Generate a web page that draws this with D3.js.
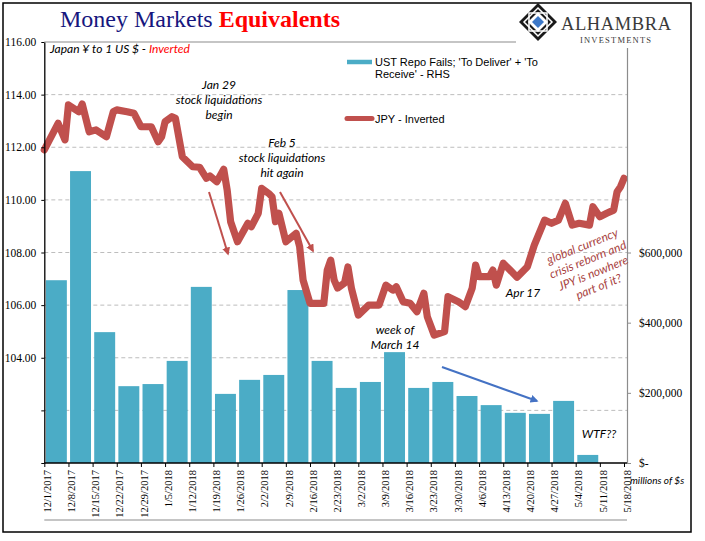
<!DOCTYPE html>
<html><head><meta charset="utf-8">
<script src="https://cdn.jsdelivr.net/npm/d3@7"></script>
<style>
html,body{margin:0;padding:0;background:#fff;}
svg{display:block;}
</style></head>
<body>
<svg id="chart" width="705" height="541"></svg>
<script>
// ---------------- DATA ----------------
const categories = ["12/1/2017","12/8/2017","12/15/2017","12/22/2017","12/29/2017","1/5/2018","1/12/2018","1/19/2018","1/26/2018","2/2/2018","2/9/2018","2/16/2018","2/23/2018","3/2/2018","3/9/2018","3/16/2018","3/23/2018","3/30/2018","4/6/2018","4/13/2018","4/20/2018","4/27/2018","5/4/2018","5/11/2018","5/18/2018"];
// UST repo fails, $ millions (RHS), one bar per weekly band
const repoFails = [521000,832000,373000,219000,225000,291000,502000,197000,237000,251000,493000,291000,214000,231000,316000,214000,231000,191000,165000,143000,140000,177000,23000];
// JPY per USD (inverted axis on LHS)
const jpyDates = ["2017-12-01","2017-12-05","2017-12-07","2017-12-08","2017-12-11","2017-12-12","2017-12-14","2017-12-16","2017-12-19","2017-12-21","2017-12-22","2017-12-25","2017-12-27","2017-12-29","2018-01-01","2018-01-03","2018-01-04","2018-01-05","2018-01-07","2018-01-08","2018-01-10","2018-01-13","2018-01-15","2018-01-17","2018-01-18","2018-01-20","2018-01-22","2018-01-23","2018-01-24","2018-01-26","2018-01-29","2018-01-30","2018-02-01","2018-02-02","2018-02-04","2018-02-05","2018-02-06","2018-02-07","2018-02-09","2018-02-12","2018-02-13","2018-02-14","2018-02-16","2018-02-20","2018-02-21","2018-02-22","2018-02-23","2018-02-24","2018-02-26","2018-02-27","2018-02-28","2018-03-02","2018-03-05","2018-03-08","2018-03-10","2018-03-12","2018-03-13","2018-03-15","2018-03-17","2018-03-19","2018-03-21","2018-03-22","2018-03-24","2018-03-27","2018-03-28","2018-03-31","2018-04-02","2018-04-04","2018-04-05","2018-04-06","2018-04-09","2018-04-10","2018-04-11","2018-04-13","2018-04-15","2018-04-17","2018-04-20","2018-04-22","2018-04-25","2018-04-27","2018-04-29","2018-05-01","2018-05-03","2018-05-05","2018-05-08","2018-05-09","2018-05-11","2018-05-13","2018-05-15","2018-05-16","2018-05-17","2018-05-18"];
const jpyValues = [111.90,112.91,112.28,113.61,113.35,113.64,112.59,112.66,112.40,113.35,113.42,113.35,113.29,112.78,112.78,112.21,112.40,112.97,113.16,113.10,111.64,111.26,111.24,110.82,110.91,110.69,111.16,110.37,109.17,108.41,109.11,108.98,109.49,110.44,110.25,110.12,109.17,109.49,108.41,108.73,108.22,106.95,106.07,106.07,107.33,107.71,106.95,106.65,106.84,107.45,106.65,105.62,106.00,106.00,106.76,106.57,106.70,106.13,106.07,105.75,106.45,105.56,104.86,104.99,106.32,106.13,105.94,106.64,107.52,107.08,107.08,107.33,106.76,107.59,107.33,107.06,107.46,108.28,109.23,109.11,109.23,109.87,109.04,109.11,109.04,109.74,109.36,109.49,109.61,110.31,110.50,110.82];
const leftTicks = [100,102,104,106,108,110,112,114,116];
const leftLabelled = [104,106,108,110,112,114,116];
const rightTicks = [0,200000,400000,600000];
const rightTickLabels = ["$-","$200,000","$400,000","$600,000"];

// ---------------- LAYOUT ----------------
const svg = d3.select("#chart");
const L = 44.3, R = 624, T = 42, B = 463, RA = 627;
const BAR = "#4BACC6", LINE = "#C0504D";

const xCat = d3.scalePoint().domain(categories).range([L, R]);
const xTime = d3.scaleTime().domain([new Date(2017,11,1), new Date(2018,4,18)]).range([L, R]);
const yL = d3.scaleLinear().domain([100,116]).range([B, T]);
const yR = d3.scaleLinear().domain([0,1200000]).range([B, T]);
const parse = d3.timeParse("%Y-%m-%d");

svg.append("rect").attr("width",705).attr("height",541).attr("fill","#fff");
// outer frame
svg.append("rect").attr("x",3).attr("y",3).attr("width",688).attr("height",529)
  .attr("fill","none").attr("stroke","#000").attr("stroke-width",1.5);

// gridlines
svg.append("g").selectAll("line").data(leftTicks.filter(d=>d>100 && d<116)).join("line")
  .attr("x1",L).attr("x2",RA).attr("y1",d=>yL(d)).attr("y2",d=>yL(d))
  .attr("stroke","#BDBDBD").attr("stroke-width",1).attr("stroke-dasharray","4,3");
// top line
svg.append("line").attr("x1",L).attr("x2",RA).attr("y1",yL(116)).attr("y2",yL(116))
  .attr("stroke","#8C8C8C").attr("stroke-width",1.2);
// bottom gray line
svg.append("line").attr("x1",L).attr("x2",RA).attr("y1",520).attr("y2",520)
  .attr("stroke","#8C8C8C").attr("stroke-width",1.2);

// bars
const step = xCat.step();
svg.append("g").selectAll("rect").data(repoFails).join("rect")
  .attr("x",(d,i)=>xCat(categories[i])+1.6)
  .attr("width",step-3.2)
  .attr("y",d=>yR(d))
  .attr("height",d=>B-yR(d))
  .attr("fill",BAR);

// JPY line
const jpy = jpyDates.map((d,i)=>({date:parse(d), v:jpyValues[i]}));
svg.append("path").datum(jpy)
  .attr("d", d3.line().x(d=>xTime(d.date)).y(d=>yL(d.v)))
  .attr("fill","none").attr("stroke",LINE).attr("stroke-width",7.2)
  .attr("stroke-linejoin","round").attr("stroke-linecap","round");

// left axis
const gL = svg.append("g").attr("transform",`translate(${L},0)`)
  .call(d3.axisLeft(yL).tickValues(leftTicks).tickSize(3).tickSizeOuter(0)
    .tickFormat(d=>leftLabelled.includes(d)?d3.format(".2f")(d):""));
gL.select(".domain").attr("stroke","#000").attr("stroke-width",1.3);
gL.selectAll(".tick line").attr("stroke","#000");
gL.selectAll(".tick text").attr("font-family","Liberation Serif").attr("font-size",11.5)
  .attr("fill","#000").attr("x",-8);

// right axis
const gR = svg.append("g").attr("transform",`translate(${RA},0)`)
  .call(d3.axisRight(yR).tickValues(rightTicks).tickSize(4).tickSizeOuter(0)
    .tickFormat((d,i)=>rightTickLabels[i]));
gR.select(".domain").attr("stroke","#8C8C8C").attr("stroke-width",1.2);
gR.selectAll(".tick line").attr("stroke","#8C8C8C");
gR.selectAll(".tick text").attr("font-family","Liberation Serif").attr("font-size",11.5)
  .attr("fill","#000").attr("x",12);

// bottom axis
const gB = svg.append("g").attr("transform",`translate(0,${B})`)
  .call(d3.axisBottom(xCat).tickSize(4).tickSizeOuter(0));
gB.select(".domain").attr("stroke","#000").attr("stroke-width",1.3).attr("d",`M${L},0H${RA}`);
gB.selectAll(".tick line").attr("stroke","#000");
gB.selectAll(".tick text").attr("font-family","Liberation Serif").attr("font-size",10.5)
  .attr("fill","#000")
  .attr("transform","rotate(-90)").attr("text-anchor","end")
  .attr("x",-7).attr("y",2.5).attr("dy","0.35em");

// title
const title = svg.append("text").attr("x",60).attr("y",27)
  .attr("font-family","Liberation Serif").attr("font-size",24);
title.append("tspan").attr("fill","#16167E").text("Money Markets ");
title.append("tspan").attr("fill","#FF0000").attr("font-weight","bold").text("Equivalents");

// subtitle
const sub = svg.append("text").attr("x",50).attr("y",53)
  .attr("font-family","Lato").attr("font-style","italic").attr("font-size",12);
sub.append("tspan").attr("fill","#000").text("Japan ¥ to 1 US $ - ");
sub.append("tspan").attr("fill","#FF0000").text("Inverted");

// logo
const logo = svg.append("g");
logo.append("rect").attr("x",516).attr("y",4).attr("width",170).attr("height",44).attr("fill","#fff");
const cx=538, cy=22;
logo.append("path").attr("d",`M${cx},${cy-19}L${cx+19},${cy}L${cx},${cy+19}L${cx-19},${cy}Z`).attr("fill","#1a1a1a");
logo.append("path").attr("d",`M${cx},${cy-14}L${cx+14},${cy}L${cx},${cy+14}L${cx-14},${cy}Z`).attr("fill","none").attr("stroke","#fff").attr("stroke-width",1.5);
logo.append("rect").attr("x",cx-9).attr("y",cy-9).attr("width",18).attr("height",18).attr("fill","none").attr("stroke","#fff").attr("stroke-width",1.5);
logo.append("path").attr("d",`M${cx},${cy-10}L${cx+10},${cy}L${cx},${cy+10}L${cx-10},${cy}Z`).attr("fill","#fff");
logo.append("path").attr("d",`M${cx},${cy-6}L${cx+6},${cy}L${cx},${cy+6}L${cx-6},${cy}Z`).attr("fill","#3C78C8");
logo.append("text").attr("x",561).attr("y",30).attr("font-family","Liberation Serif").attr("font-size",18.5)
  .attr("letter-spacing",0.6).attr("fill","#3a3a3a").text("ALHAMBRA");
logo.append("text").attr("x",580).attr("y",43).attr("font-family","Liberation Serif").attr("font-size",8.5)
  .attr("letter-spacing",1.2).attr("fill","#3a3a3a").text("INVESTMENTS");

// legend
svg.append("line").attr("x1",347).attr("x2",372).attr("y1",62).attr("y2",62).attr("stroke",BAR).attr("stroke-width",4.5);
svg.append("text").attr("x",375).attr("y",66).attr("font-family","Liberation Sans").attr("font-size",11).attr("fill","#000")
  .text("UST Repo Fails; 'To Deliver' + 'To");
svg.append("text").attr("x",375).attr("y",78).attr("font-family","Liberation Sans").attr("font-size",11).attr("fill","#000")
  .text("Receive' - RHS");
svg.append("line").attr("x1",347).attr("x2",372).attr("y1",118.5).attr("y2",118.5).attr("stroke",LINE).attr("stroke-width",5).attr("stroke-linecap","round");
svg.append("text").attr("x",375).attr("y",122.5).attr("font-family","Liberation Sans").attr("font-size",11).attr("fill","#000")
  .text("JPY - Inverted");

// annotations
function note(lines, x, y0, lh, opts={}) {
  const t = svg.append("text").attr("font-family","Lato").attr("font-style","italic")
    .attr("font-size",opts.size||12).attr("fill",opts.fill||"#000").attr("text-anchor","middle");
  if (opts.rotate) t.attr("transform",`rotate(${opts.rotate},${x},${y0})`);
  lines.forEach((s,i)=>t.append("tspan").attr("x",x).attr("y",y0+i*lh).text(s));
}
note(["Jan 29","stock liquidations","begin"],219,89,15);
note(["Feb 5","stock liquidations","hit again"],282,147,15);
note(["week of","March 14"],395,334,15);
note(["Apr 17"],523,297,15);
note(["WTF??"],599,438,15);
note(["global currency","crisis reborn and","JPY is nowhere","part of it?"],584,250,14.5,{fill:"#A94442",rotate:-22});
svg.append("text").attr("x",630).attr("y",484).attr("font-family","Lato").attr("font-style","italic")
  .attr("font-size",10).attr("fill","#000").text("millions of $s");

// arrows
const defs = svg.append("defs");
defs.append("marker").attr("id","ahR").attr("viewBox","0 0 10 10").attr("refX",8).attr("refY",5)
  .attr("markerWidth",4).attr("markerHeight",4).attr("orient","auto")
  .append("path").attr("d","M0,0L10,5L0,10Z").attr("fill",LINE);
defs.append("marker").attr("id","ahB").attr("viewBox","0 0 10 10").attr("refX",8).attr("refY",5)
  .attr("markerWidth",4).attr("markerHeight",4).attr("orient","auto")
  .append("path").attr("d","M0,0L10,5L0,10Z").attr("fill","#4472C4");
svg.append("line").attr("x1",209).attr("y1",192).attr("x2",228).attr("y2",254)
  .attr("stroke",LINE).attr("stroke-width",2).attr("marker-end","url(#ahR)");
svg.append("line").attr("x1",280).attr("y1",192).attr("x2",313).attr("y2",251)
  .attr("stroke",LINE).attr("stroke-width",2).attr("marker-end","url(#ahR)");
svg.append("line").attr("x1",442).attr("y1",367).attr("x2",537).attr("y2",401)
  .attr("stroke","#4472C4").attr("stroke-width",2).attr("marker-end","url(#ahB)");
</script>
</body></html>
